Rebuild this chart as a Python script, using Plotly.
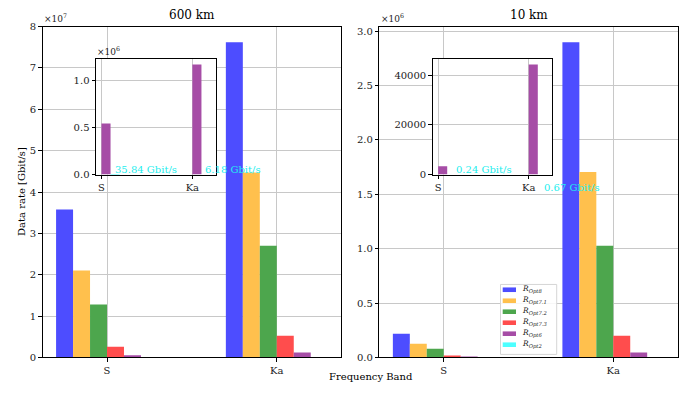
import plotly.graph_objects as go

W, H = 683, 395
YS = 1.028  # small vertical correction of layout positions

categories = ["S", "Ka"]
series_names = ["R_Opt8", "R_Opt7.1", "R_Opt7.2", "R_Opt7.3", "R_Opt6", "R_Opt2"]
legend_labels = ["<i>R</i><sub><i>Opt8</i></sub>", "<i>R</i><sub><i>Opt7.1</i></sub>",
                 "<i>R</i><sub><i>Opt7.2</i></sub>", "<i>R</i><sub><i>Opt7.3</i></sub>",
                 "<i>R</i><sub><i>Opt6</i></sub>", "<i>R</i><sub><i>Opt2</i></sub>"]

# 600 km values [S, Ka] in Gbit/s
km600_opt8 = [3.58e7, 7.62e7]
km600_opt71 = [2.10e7, 4.47e7]
km600_opt72 = [1.28e7, 2.70e7]
km600_opt73 = [0.26e7, 0.525e7]
km600_opt6 = [5.4e5, 1.167e6]
km600_opt2 = [35.84, 6.18]

# 10 km values [S, Ka]
km10_opt8 = [2.18e5, 2.896e6]
km10_opt71 = [1.26e5, 1.705e6]
km10_opt72 = [8.0e4, 1.026e6]
km10_opt73 = [1.8e4, 1.99e5]
km10_opt6 = [3.35e3, 4.435e4]
km10_opt2 = [0.24, 0.67]

left_ticks = [0, 1e7, 2e7, 3e7, 4e7, 5e7, 6e7, 7e7, 8e7]
left_ticktext = ["0", "1", "2", "3", "4", "5", "6", "7", "8"]
right_ticks = [0, 0.5e6, 1.0e6, 1.5e6, 2.0e6, 2.5e6, 3.0e6]
right_ticktext = ["0.0", "0.5", "1.0", "1.5", "2.0", "2.5", "3.0"]
inset_left_ticks = [0, 0.5e6, 1.0e6]
inset_left_ticktext = ["0.0", "0.5", "1.0"]
inset_right_ticks = [0, 20000, 40000]
inset_right_ticktext = ["0", "20000", "40000"]

colors = ["#4d4dff", "#ffc04d", "#4da64d", "#ff4d4d", "#a64da6", "#4dffff"]
FONT = "DejaVu Serif"
BW = 0.1

def fx(p):
    return p / W

def fy(p):
    q = H / 2 + (p - H / 2) * YS
    return 1 - q / H

def px_x(a, b):
    return [fx(a), fx(b)]

def px_y(top, bottom):
    return [fy(bottom), fy(top)]

fig = go.Figure()

left_series = [km600_opt8, km600_opt71, km600_opt72, km600_opt73, km600_opt6, km600_opt2]
right_series = [km10_opt8, km10_opt71, km10_opt72, km10_opt73, km10_opt6, km10_opt2]

for k, (vals, name, col) in enumerate(zip(left_series, series_names, colors)):
    xs = [i + (k - 2.5) * BW for i in range(len(categories))]
    fig.add_trace(go.Bar(x=xs, y=vals, width=BW, marker=dict(color=col, line=dict(width=0)),
                         name=name, xaxis="x", yaxis="y"))
for k, (vals, name, col) in enumerate(zip(right_series, series_names, colors)):
    xs = [i + (k - 2.5) * BW for i in range(len(categories))]
    fig.add_trace(go.Bar(x=xs, y=vals, width=BW, marker=dict(color=col, line=dict(width=0)),
                         name=name, xaxis="x2", yaxis="y2"))

# insets: Opt6 and Opt2
for vals6, vals2, xa, ya in [(km600_opt6, km600_opt2, "x3", "y3"), (km10_opt6, km10_opt2, "x4", "y4")]:
    fig.add_trace(go.Bar(x=[i + 0.05 for i in range(2)], y=vals6, width=BW,
                         marker=dict(color=colors[4], line=dict(width=0)),
                         name=series_names[4], xaxis=xa, yaxis=ya))
    fig.add_trace(go.Bar(x=[i + 0.15 for i in range(2)], y=vals2, width=BW,
                         marker=dict(color=colors[5], line=dict(width=0)),
                         name=series_names[5], xaxis=xa, yaxis=ya))

axis_common = dict(showline=True, mirror=True, linecolor="black", linewidth=1,
                   ticks="outside", ticklen=3.5, tickwidth=0.8, tickcolor="black",
                   showgrid=True, gridcolor="#c8c8c8", gridwidth=1, zeroline=False,
                   tickfont=dict(family=FONT, size=10, color="#222"))

xcat = dict(tickvals=[0, 1], ticktext=categories)

fig.update_layout(
    width=W, height=H, margin=dict(l=0, r=0, t=0, b=0),
    paper_bgcolor="white", plot_bgcolor="white",
    barmode="overlay",
    font=dict(family=FONT, size=10, color="#222"),
    showlegend=False,
    xaxis=dict(domain=px_x(42.5, 341.3), range=[-0.38, 1.38], anchor="y", **xcat, **axis_common),
    yaxis=dict(domain=px_y(27, 358), range=[0, max(km600_opt8) * 1.05], anchor="x",
               tickvals=left_ticks, ticktext=left_ticktext, **axis_common),
    xaxis2=dict(domain=px_x(379.3, 677.7), range=[-0.38, 1.38], anchor="y2", **xcat, **axis_common),
    yaxis2=dict(domain=px_y(27, 358), range=[0, max(km10_opt8) * 1.05], anchor="x2",
                tickvals=right_ticks, ticktext=right_ticktext, **axis_common),
    xaxis3=dict(domain=px_x(96, 216), range=[-0.06, 1.26], anchor="y3", **xcat, **axis_common),
    yaxis3=dict(domain=px_y(59.3, 175), range=[0, max(km600_opt6) * 1.05], anchor="x3",
                tickvals=inset_left_ticks, ticktext=inset_left_ticktext, **axis_common),
    xaxis4=dict(domain=px_x(432.7, 552.3), range=[-0.06, 1.26], anchor="y4", **xcat, **axis_common),
    yaxis4=dict(domain=px_y(59.3, 175), range=[0, max(km10_opt6) * 1.05], anchor="x4",
                tickvals=inset_right_ticks, ticktext=inset_right_ticktext, **axis_common),
)

ann = []
shapes = []

def pann(text, x, y, size, xanchor="center", color="black", angle=0):
    return dict(text=text, x=fx(x), y=fy(y), xref="paper", yref="paper",
                xanchor=xanchor, yanchor="middle", textangle=angle, showarrow=False,
                font=dict(family=FONT, size=size, color=color))

# titles
ann.append(pann("600 km", 191.5, 15, 12))
ann.append(pann("10 km", 528.5, 15, 12))
# multipliers
for txt, xp, yp in [("×10<sup>7</sup>", 42, 18), ("×10<sup>6</sup>", 379, 18), ("×10<sup>6</sup>", 95, 51)]:
    ann.append(pann(txt, xp, yp, 9, xanchor="left", color="#222"))
# axis labels
ann.append(pann("Data rate [Gbit/s]", 21.5, 192, 10, angle=-90))
ann.append(pann("Frequency Band", 370.5, 377, 10))
# cyan value labels in insets (category index + offset, at Opt2 value)
label_specs = [("x3", "y3", km600_opt2, [0.13, 0.12], [0, 0]),
               ("x4", "y4", km10_opt2, [0.18, 0.15], [0, -18])]
for xa, ya, vals, offs, shifts in label_specs:
    for i, v in enumerate(vals):
        ann.append(dict(text=f"{v:.2f} Gbit/s", x=i + offs[i], y=v, xref=xa, yref=ya,
                        xanchor="left", yanchor="bottom", yshift=shifts[i] - 2, showarrow=False,
                        font=dict(family=FONT, size=10, color="#22eeee")))

# manual legend (matplotlib-style compact legend)
lx0, lx1, ly0, ly1 = 500.5, 556.7, 285, 355
shapes.append(dict(type="rect", xref="paper", yref="paper", x0=fx(lx0), x1=fx(lx1),
                   y0=fy(ly1), y1=fy(ly0), fillcolor="rgba(255,255,255,0.85)",
                   line=dict(color="#d5d5d5", width=1), layer="above"))
for k, (lab, col) in enumerate(zip(legend_labels, colors)):
    cy = 290.3 + 11 * k
    shapes.append(dict(type="rect", xref="paper", yref="paper", x0=fx(502.7), x1=fx(516),
                       y0=fy(cy + 2.3), y1=fy(cy - 2.3), fillcolor=col,
                       line=dict(width=0), layer="above"))
    ann.append(pann(lab, 520, cy, 7.5, xanchor="left", color="#222"))

fig.update_layout(annotations=ann, shapes=shapes)
fig.write_html("out.html", config={"displayModeBar": False},
               post_script="document.body.style.margin='0';document.body.style.overflow='hidden';")
